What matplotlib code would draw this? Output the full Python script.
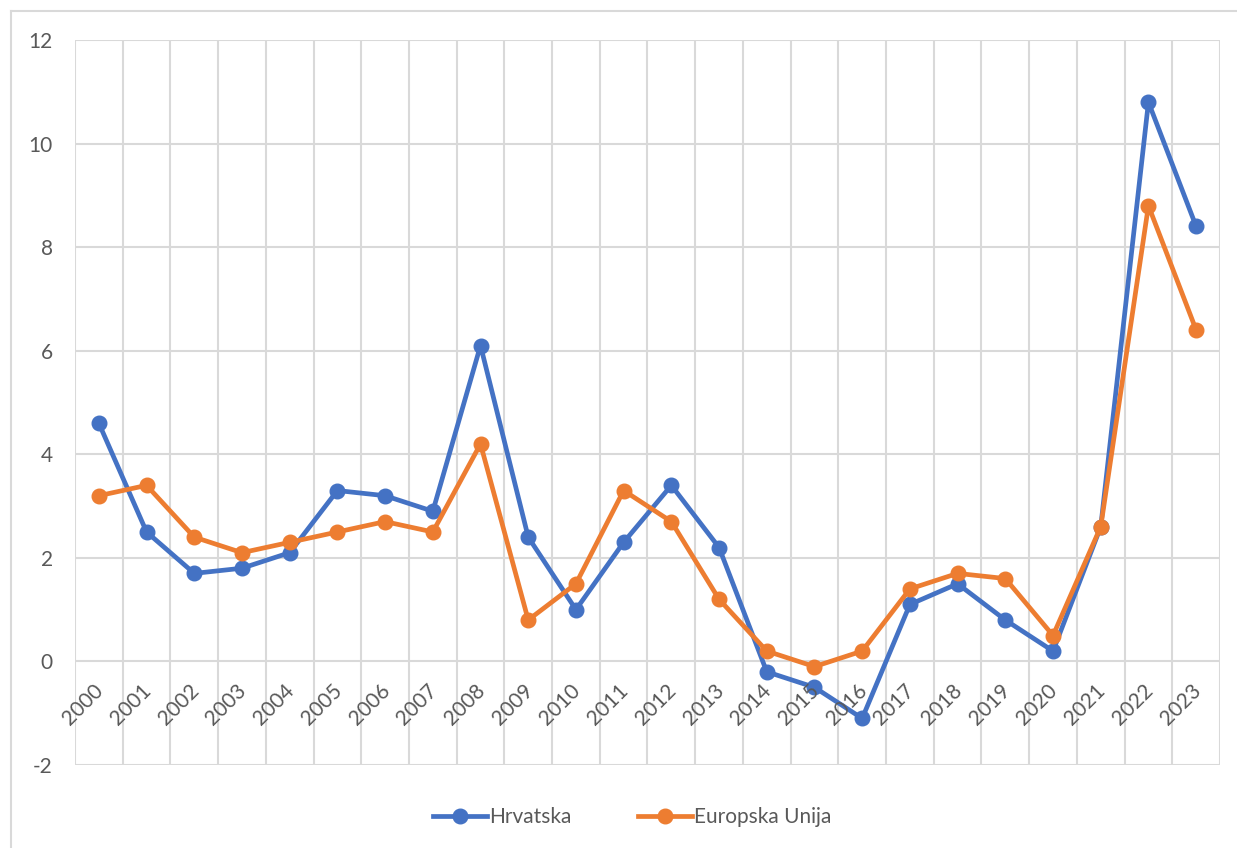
import matplotlib.pyplot as plt
from matplotlib.lines import Line2D

years = [str(y) for y in range(2000, 2024)]
hrvatska = [4.6, 2.5, 1.7, 1.8, 2.1, 3.3, 3.2, 2.9, 6.1, 2.4, 1.0, 2.3,
            3.4, 2.2, -0.2, -0.5, -1.1, 1.1, 1.5, 0.8, 0.2, 2.6, 10.8, 8.4]
eu = [3.2, 3.4, 2.4, 2.1, 2.3, 2.5, 2.7, 2.5, 4.2, 0.8, 1.5, 3.3,
      2.7, 1.2, 0.2, -0.1, 0.2, 1.4, 1.7, 1.6, 0.5, 2.6, 8.8, 6.4]
y_ticks = [-2, 0, 2, 4, 6, 8, 10, 12]

BLUE = "#4472C4"
ORANGE = "#ED7D31"
GRID = "#D9D9D9"
TEXT = "#595959"

plt.rcParams["font.family"] = ["Lato", "DejaVu Sans"]

W, H = 1237, 848
fig = plt.figure(figsize=(W / 100, H / 100), dpi=100)
ax = fig.add_axes([75 / W, 1 - 765 / H, (1220 - 75) / W, (765 - 40) / H])

x = list(range(len(years)))
ax.plot(x, hrvatska, color=BLUE, lw=3.4, marker="o", ms=10.5, solid_joinstyle="round", zorder=3)
ax.plot(x, eu, color=ORANGE, lw=3.4, marker="o", ms=10.5, solid_joinstyle="round", zorder=3)

ax.set_xlim(-0.5, len(years) - 0.5)
ax.set_ylim(-2, 12)
ax.set_yticks(y_ticks)
ax.set_yticklabels([str(v) for v in y_ticks])

# category boundary gridlines
for b in range(len(years) + 1):
    ax.axvline(b - 0.5, color=GRID, lw=1.5, zorder=1)
for v in y_ticks:
    ax.axhline(v, color=GRID, lw=1.5, zorder=1)

for s in ax.spines.values():
    s.set_visible(False)
ax.set_xticks([])
ax.tick_params(axis="y", length=0, labelsize=15, labelcolor=TEXT, pad=16)

# category labels sit under the zero line, rotated
for i, lab in enumerate(years):
    ax.annotate(lab, xy=(i, 0), xytext=(-4, -14), textcoords="offset points",
                rotation=45, ha="right", va="top", rotation_mode="anchor",
                fontsize=15, color=TEXT)

handles = [Line2D([], [], color=BLUE, lw=3.4, marker="o", ms=10.5),
           Line2D([], [], color=ORANGE, lw=3.4, marker="o", ms=10.5)]
fig.legend(handles, ["Hrvatska", "Europska Unija"], loc="center",
           bbox_to_anchor=(632 / W, 1 - 817 / H), ncol=2, frameon=False,
           fontsize=15, labelcolor=TEXT, handlelength=2.6, handletextpad=0.1,
           columnspacing=3.2)

# outer chart border (left and top visible)
fig.add_artist(Line2D([11 / W, 11 / W], [0, 1 - 11 / H], color=GRID, lw=1.5))
fig.add_artist(Line2D([11 / W, 1], [1 - 11 / H, 1 - 11 / H], color=GRID, lw=1.5))

fig.savefig("out.png", dpi=100)
